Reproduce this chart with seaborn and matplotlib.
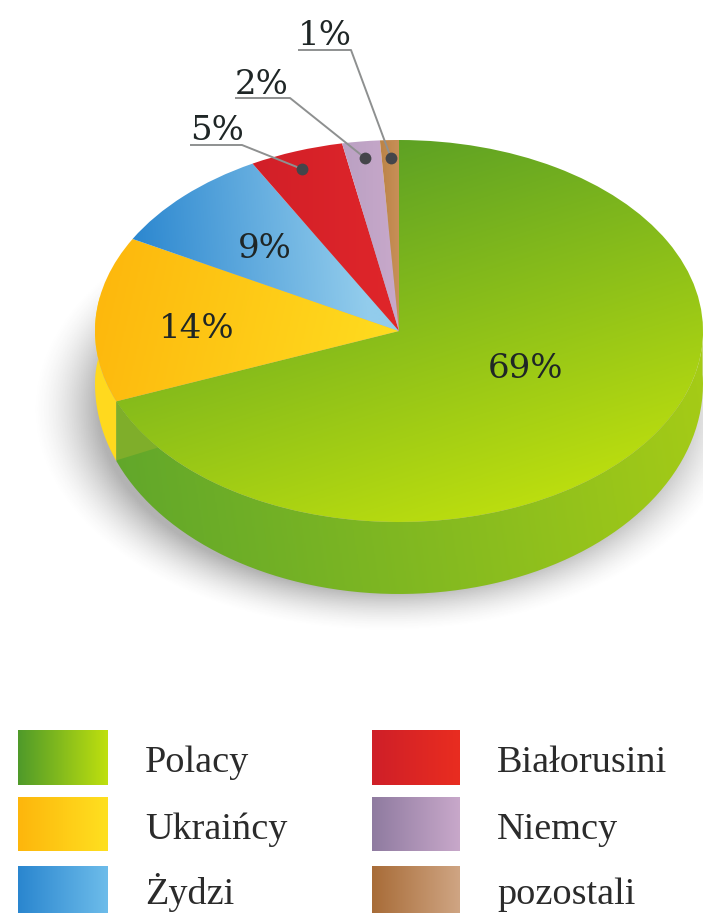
import numpy as np
import matplotlib
matplotlib.use("Agg")
import matplotlib.pyplot as plt
from matplotlib.path import Path
from matplotlib.patches import PathPatch
import seaborn as sns

categories = ["Polacy", "Ukraińcy", "Żydzi", "Białorusini", "Niemcy", "pozostali"]
values = [69, 14, 9, 5, 2, 1]
percent_labels = ["69%", "14%", "9%", "5%", "2%", "1%"]
dark_colors = ["#4f9a2a", "#fdb60c", "#2a86cf", "#cf1f28", "#8f7ba0", "#a86c38"]
light_colors = ["#bfe00e", "#ffe020", "#6dbcea", "#e92d20", "#c8a8ca", "#cfa583"]
pie_dark = ["#559c26", "#fdb60c", "#2a86cf", "#d11f28", "#b9a0c2", "#bc8448"]
pie_light = ["#bfe00e", "#ffdd20", "#92ccec", "#e0262a", "#c9a9cb", "#c89058"]

W, H = 703, 913
sns.set_theme(style="white")
plt.rcParams["font.family"] = ["Liberation Serif", "DejaVu Serif"]
fig = plt.figure(figsize=(W / 100, H / 100), dpi=100, facecolor="white")

CX, CY, RX, RY, DEPTH_PX = 399, 331, 304, 191, 72
ax = fig.add_axes([0, 0, 1, 1], zorder=1)
XLIM = (-CX / RX, (W - CX) / RX)
YLIM = ((CY - H) / RY, CY / RY)
depth = DEPTH_PX / RY


def gradient(a, c0, c1, ramp, direction, clip, z=3):
    x0, x1, y0, y1 = -1.05, 1.05, -1.6, 1.05
    xs, ys = np.meshgrid(np.linspace(x0, x1, 500), np.linspace(y0, y1, 500))
    proj = xs * direction[0] + ys * direction[1]
    corners = [r * direction[0] + s * direction[1] for r in ramp[:2] for s in ramp[2:]]
    t = np.clip((proj - min(corners)) / (max(corners) - min(corners)), 0, 1)
    pal = np.array(sns.blend_palette([c0, c1], 256))
    img = pal[(t * 255).astype(int)]
    im = a.imshow(img, extent=(x0, x1, y0, y1), origin="lower", aspect="auto",
                  interpolation="bilinear", zorder=z)
    im.set_clip_path(clip)
    return im


# soft shadow
gx, gy = np.meshgrid(np.linspace(*XLIM, 400), np.linspace(*YLIM, 500))
dist = np.sqrt((gx + 0.04) ** 2 + (gy + depth + 0.03) ** 2)
alpha = np.clip((1.17 - dist) / 0.22, 0, 1) ** 1.6 * 0.4
shadow = np.zeros(gx.shape + (4,))
shadow[..., :3] = 0.25
shadow[..., 3] = alpha
ax.imshow(shadow, extent=(*XLIM, *YLIM), origin="lower", aspect="auto", zorder=1)

fractions = np.array(values) / sum(values)
edges = 90 - 360 * np.concatenate([[0], np.cumsum(fractions)])


def wall(t0, t1):
    th = np.radians(np.linspace(t0, t1, 160))
    top = np.column_stack([np.cos(th), np.sin(th)])
    d = depth * (0.73 + 0.27 * np.abs(np.sin(th)))
    low = (top - np.column_stack([np.zeros_like(d), d]))[::-1]
    return Path(np.vstack([top, low, top[:1]]))


# side walls: visible front of Polacy and the sliver of Ukraińcy
w_green = PathPatch(wall(3, edges[1]), fc="none", ec="none")
ax.add_patch(w_green)
gradient(ax, "#5da52c", "#a6cc16", (-1, 1, -1 - depth, 0), (1, 0.1), w_green)
w_yellow = PathPatch(wall(edges[2] + 18, edges[1]), fc="#ffd91e", ec="none", zorder=3.2)
ax.add_patch(w_yellow)

# exposed cut face next to the Polacy slice
th_p = np.radians(edges[1])
p = np.array([np.cos(th_p), np.sin(th_p)])
rim = np.radians(np.linspace(edges[1], edges[1] + 16, 30))
face = np.vstack([np.column_stack([np.cos(rim), np.sin(rim)]),
                  [p - [0, depth * 0.82]], [p]])
ax.add_patch(PathPatch(Path(face), fc="#7fae2a", ec="none", zorder=3.3))

# top surface
wedges, _ = ax.pie(values, startangle=90, counterclock=False, radius=1, center=(0, 0), frame=False)
dirs = [(0.5, -1), (1, -0.15), (1, 0.05), (1, 0), (1, 0), (1, 0)]
ramps = [(-0.4, 0.4, -1, 1), (-1, -0.05, -0.5, 0.5), (-0.87, -0.15, 0.1, 0.9),
         (-0.5, 0, 0.3, 1), (-0.2, 0, 0.3, 1), (-0.06, 0, 0.5, 1)]
for w, c0, c1, ramp, d in zip(wedges, pie_dark, pie_light, ramps, dirs):
    w.set_facecolor("none")
    w.set_edgecolor("none")
    w.set_zorder(4)
    gradient(ax, c0, c1, ramp, d, w, z=4)
ax.set_aspect("auto")
ax.set_xlim(XLIM)
ax.set_ylim(YLIM)
ax.axis("off")

# Overlay in pixel coordinates: labels and legend
lab = fig.add_axes([0, 0, 1, 1], zorder=2)
lab.patch.set_alpha(0)
lab.axis("off")

pct_font = dict(family=["DejaVu Serif"], fontsize=24.5, color="#1f2626", ha="center", va="center")
for txt, x, y in zip(percent_labels[:3], [525, 197, 265], [369, 329, 249]):
    lab.text(x, y, txt, **pct_font)

leader_x = [(190, 242, 302), (235, 290, 365), (298, 351, 391)]
leader_y = [(145, 145, 169), (98, 98, 158), (50, 50, 158)]
label_pos = [(217, 131), (262, 85), (325, 36)]
for txt, xs, ys, (tx, ty) in zip(percent_labels[3:], leader_x, leader_y, label_pos):
    lab.plot(xs, ys, color="#8e9090", lw=1.4, solid_capstyle="butt", zorder=2)
    lab.plot(xs[-1], ys[-1], "o", ms=8.5, color="#44454a", mec="none", zorder=3)
    lab.text(tx, ty, txt, **pct_font)

# Legend
sw_x = [(18, 108), (372, 460)]
sw_y = [(730, 785), (797, 851), (866, 913)]
name_x = [145, 497]
name_y = [772, 839, 904]
for i, name in enumerate(categories):
    col, row = i // 3, i % 3
    x0, x1 = sw_x[col]
    y0, y1 = sw_y[row]
    pal = np.array(sns.blend_palette([dark_colors[i], light_colors[i]], 128))[None, :, :]
    lab.imshow(pal, extent=(x0, x1, y1, y0), aspect="auto", interpolation="bilinear")
    lab.text(name_x[col], name_y[row], name, family="Liberation Serif", fontsize=27.5,
             color="#2b2b2b", ha="left", va="baseline")
lab.set_xlim(0, W)
lab.set_ylim(H, 0)

fig.savefig("out.png", dpi=100, facecolor="white")
